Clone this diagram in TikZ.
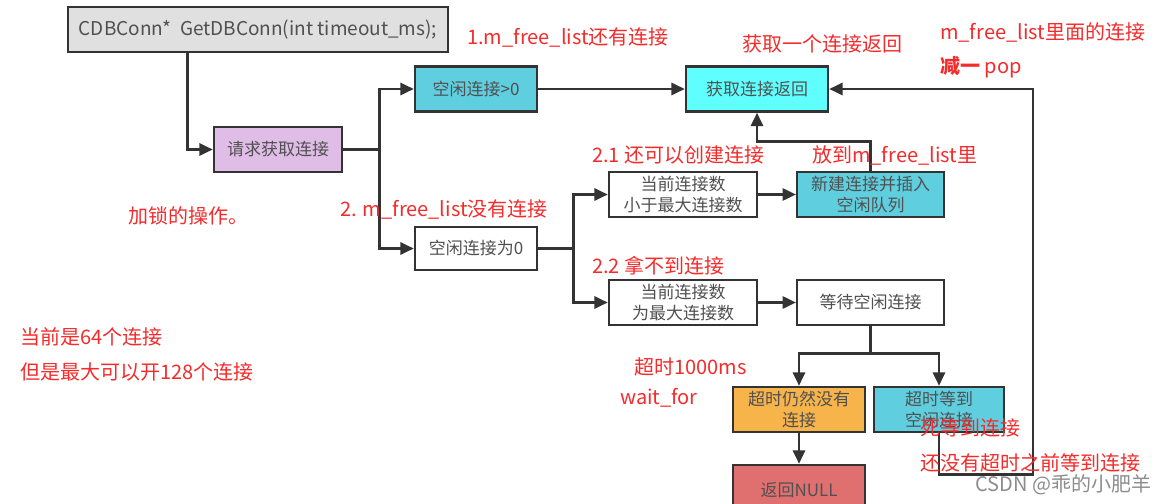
\documentclass[tikz,border=0pt]{standalone}
\usepackage{fontspec}
\setmainfont{Noto Sans CJK SC}
\usepackage{tikz}
\usetikzlibrary{positioning,arrows.meta,calc}
\definecolor{inkline}{HTML}{333333}
\definecolor{inktext}{HTML}{505050}
\definecolor{notered}{HTML}{F52B2B}
\definecolor{fillgray}{HTML}{E0E0E0}
\definecolor{fillcyan}{HTML}{5FCFE0}
\definecolor{fillaqua}{HTML}{5FFFFF}
\definecolor{fillviolet}{HTML}{E0BDE6}
\definecolor{fillorange}{HTML}{F7B44A}
\definecolor{fillred}{HTML}{E07070}

\begin{document}
\begin{tikzpicture}[x=0.75pt,y=-0.75pt,
  box/.style={draw=inkline,line width=1.8pt,text=inktext,align=center,inner sep=0pt,
    minimum height=33.75pt,font=\fontsize{12.75}{15.5}\selectfont},
  flow/.style={draw=inkline,line width=2pt,-{Triangle[length=10pt,width=9pt]}},
  note/.style={text=notered,anchor=west,inner sep=0pt,font=\fontsize{15}{18}\selectfont}]
  \useasboundingbox (0,0) rectangle (1159,503);
  % boxes
  \node[box,fill=fillgray,minimum width=285pt,font=\fontsize{14.25}{17}\selectfont] (conn) at (258,29.5){CDBConn*\ \ GetDBConn(int timeout\_ms);};
  \node[box,fill=fillviolet,minimum width=96pt] (req) at (278,149.5){请求获取连接};
  \node[box,fill=fillcyan,minimum width=91.5pt] (gt0) at (476,89){空闲连接>0};
  \node[box,fill=fillaqua,minimum width=106.5pt] (ret) at (757,89){获取连接返回};
  \node[box,fill=white,minimum width=91.5pt,minimum height=32.25pt] (eq0) at (476,248.5){空闲连接为0};
  \node[box,fill=white,minimum width=111pt] (lt) at (683,194.5){当前连接数\\小于最大连接数};
  \node[box,fill=fillcyan,minimum width=110pt] (newc) at (870.5,194.5){新建连接并插入\\空闲队列};
  \node[box,fill=white,minimum width=111pt] (eqmax) at (683,302.5){当前连接数\\为最大连接数};
  \node[box,fill=white,minimum width=110pt] (wait) at (870.5,302.5){等待空闲连接};
  \node[box,fill=fillorange,minimum width=99pt] (tout) at (799,409.5){超时仍然没有\\连接};
  \node[box,fill=fillcyan,minimum width=97.5pt] (got) at (939,409.5){超时等到\\空闲连接};
  \node[box,fill=fillred,minimum width=99pt,minimum height=37.5pt] (null) at (799,490){返回NULL};
  % connectors
  \draw[flow] ($(conn.south west)+(121,0)$) |- (req.west);
  \draw[flow] (req.east) -- ++(36,0) |- (gt0.west);
  \draw[flow] (req.east) -- ++(36,0) |- (eq0.west);
  \draw[flow] (gt0.east) -- (ret.west);
  \draw[flow] (eq0.east) -- ++(35,0) |- (lt.west);
  \draw[flow] (eq0.east) -- ++(35,0) |- (eqmax.west);
  \draw[flow] (lt.east) -- (newc.west);
  \draw[flow] (eqmax.east) -- (wait.west);
  \draw[flow] (newc.north) -- ++(0,-29) -| (ret.south);
  \draw[flow] (wait.south) -- ++(0,27) -| (tout.north);
  \draw[flow] (wait.south) -- ++(0,27) -| (got.north);
  \draw[flow] (tout.south) -- (null.north);
  \draw[flow] (got.south) -- ++(0,41) -- ++(94,0) |- (ret.east);
  % notes
  \node[note] (n1) at (467,38){1.m\_free\_list还有连接};
  \node[note] (nret) at (742,44){获取一个连接返回};
  \node[note] (npop) at (940,32){m\_free\_list里面的连接};
  \node[note] (npop2) at (940,67){\textbf{减一} pop};
  \node[note] (n2) at (340,209){2. m\_free\_list没有连接};
  \node[note] (nlock) at (128,216){加锁的操作。};
  \node[note] (n21) at (592,155){2.1 还可以创建连接};
  \node[note] (nput) at (812,155){放到m\_free\_list里};
  \node[note] (n22) at (592,266){2.2 拿不到连接};
  \node[note] (ncur) at (20,337){当前是64个连接};
  \node[note] (nmax) at (20,372){但是最大可以开128个连接};
  \node[note] (ntime) at (634,367){超时1000ms};
  \node[note] (nwait) at (620,398){wait\_for};
  \node[note] (ndead) at (920,428){死等到连接};
  \node[note] (nbefore) at (920,463){还没有超时之前等到连接};
  \node[note,text=black!45] (mark) at (975,485){CSDN @乖的小肥羊};
\end{tikzpicture}
\end{document}
